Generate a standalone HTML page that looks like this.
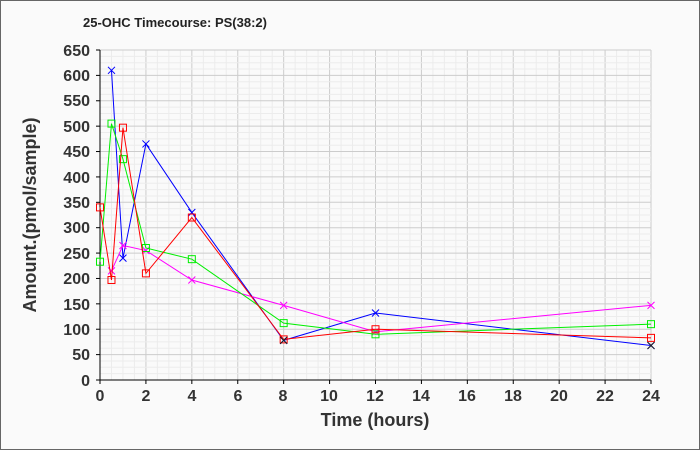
<!DOCTYPE html>
<html><head><meta charset="utf-8"><style>
body{margin:0;background:#fafafa;}
svg{display:block;font-family:"Liberation Sans",Arial,sans-serif;}
</style></head><body>
<svg id="s" width="700" height="450" xmlns="http://www.w3.org/2000/svg">
<rect x="0.5" y="0.5" width="699" height="449" fill="#fafafa" stroke="#666"/>
<g id="grid"></g>
<text x="83" y="27" font-size="13" font-weight="bold" fill="#222">25-OHC Timecourse: PS(38:2)</text>
<g font-size="16" font-weight="bold" fill="#333" text-anchor="end">
<text x="90" y="386">0</text><text x="90" y="360">50</text><text x="90" y="335">100</text>
<text x="90" y="310">150</text><text x="90" y="284">200</text><text x="90" y="259">250</text>
<text x="90" y="233">300</text><text x="90" y="208">350</text><text x="90" y="183">400</text>
<text x="90" y="157">450</text><text x="90" y="132">500</text><text x="90" y="106">550</text>
<text x="90" y="81">600</text><text x="90" y="56">650</text>
</g>
<g font-size="16" font-weight="bold" fill="#333" text-anchor="middle">
<text x="100" y="401">0</text><text x="146" y="401">2</text><text x="192" y="401">4</text>
<text x="238" y="401">6</text><text x="283" y="401">8</text><text x="329" y="401">10</text>
<text x="375" y="401">12</text><text x="421" y="401">14</text><text x="467" y="401">16</text>
<text x="513" y="401">18</text><text x="559" y="401">20</text><text x="605" y="401">22</text>
<text x="651" y="401">24</text>
<text x="375" y="426" font-size="18">Time (hours)</text>
<text transform="translate(36,215) rotate(-90)" font-size="18">Amount.(pmol/sample)</text>
</g>
<g id="data"></g>
</svg>
<script>
const X=t=>100+t*(551/24), Y=v=>380-v*(330/650);
let g='';
for(let t=0;t<=24;t+=0.5){const x=X(t);g+=`<line x1="${x}" y1="50" x2="${x}" y2="380" stroke="${t%2==0?'#ccc':'#ececec'}" stroke-width="1"/>`;}
for(let v=0;v<=650;v+=12.5){const y=Y(v);g+=`<line x1="100" y1="${y}" x2="651" y2="${y}" stroke="${v%50==0?'#ccc':'#ececec'}" stroke-width="1"/>`;}
g+=`<line x1="100" y1="50" x2="100" y2="380" stroke="#000"/><line x1="100" y1="380" x2="651" y2="380" stroke="#000"/>`;
for(let t=0;t<=24;t+=2){g+=`<line x1="${X(t)}" y1="380" x2="${X(t)}" y2="384" stroke="#000"/>`;}
for(let v=0;v<=650;v+=50){g+=`<line x1="96" y1="${Y(v)}" x2="100" y2="${Y(v)}" stroke="#000"/>`;}
document.getElementById('grid').innerHTML=g;
const S=[
 ['#0000ff','x',[[0.5,610],[1,240],[2,465],[4,330],[8,78],[12,132],[24,68]]],
 ['#ff00ff','x',[[0.5,215],[1,265],[2,255],[4,197],[8,147],[12,95],[24,147]]],
 ['#00ee00','s',[[0,233],[0.5,505],[1,435],[2,260],[4,238],[8,112],[12,90],[24,110]]],
 ['#ff0000','s',[[0,340],[0.5,197],[1,497],[2,210],[4,320],[8,80],[12,100],[24,83]]],
];
let d='';
for(const [c,m,p] of S){
 d+=`<polyline fill="none" stroke="${c}" stroke-width="1" points="${p.map(q=>X(q[0])+','+Y(q[1])).join(' ')}"/>`;
 for(const q of p){const x=X(q[0]),y=Y(q[1]);
  if(m=='s')d+=`<rect x="${x-3.5}" y="${y-3.5}" width="7" height="7" fill="none" stroke="${c}"/>`;
  else d+=`<path d="M${x-3.5} ${y-3.5}L${x+3.5} ${y+3.5}M${x-3.5} ${y+3.5}L${x+3.5} ${y-3.5}" stroke="${c}"/>`;}
}
for(const q of [[8,78],[24,68]]){const x=X(q[0]),y=Y(q[1]);d+=`<path d="M${x-3.5} ${y-3.5}L${x+3.5} ${y+3.5}M${x-3.5} ${y+3.5}L${x+3.5} ${y-3.5}" stroke="#222"/>`;}
document.getElementById('data').innerHTML=d;
</script>
</body></html>
